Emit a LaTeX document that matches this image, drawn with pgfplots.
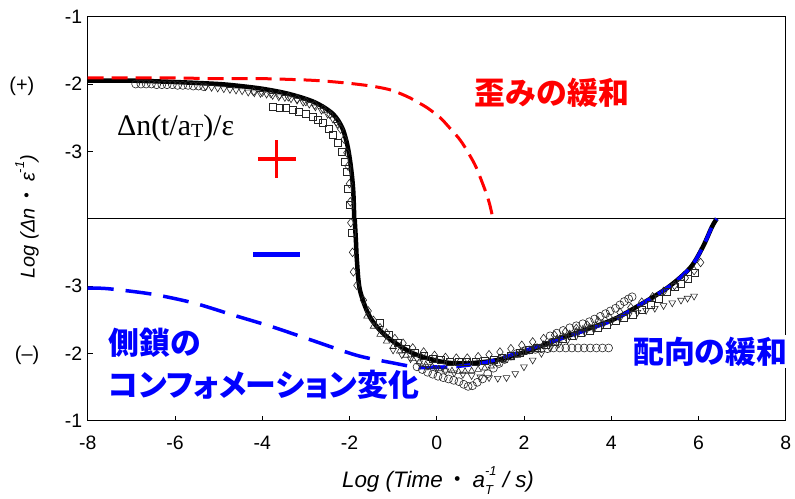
\documentclass[border=0pt]{standalone}
\usepackage{fontspec}
\setmainfont{Liberation Sans}
\newfontfamily\serif{Liberation Serif}
\newfontfamily\jp{Noto Sans CJK JP}
\newfontfamily\jpp[RawFeature=+palt]{Noto Sans CJK JP}
\usepackage{pgfplots}
\pgfplotsset{compat=1.18}
\begin{document}
\begin{tikzpicture}
\path[use as bounding box] (-87.7bp,-78.3bp) rectangle (707.3bp,420.7bp);
\begin{axis}[
  at={(0,0)}, anchor=south west,
  scale only axis, width=698bp, height=404bp,
  xmin=-8, xmax=8, ymin=-3, ymax=3,
  clip=false,
  axis line style={line width=0.9bp},
  xtick={-8,-6,-4,-2,0,2,4,6,8},
  xticklabels={-8,-6,-4,-2,0,2,4,6,8},
  ytick={-3,-2,-1,1,2,3},
  yticklabels={-1,-2,-3,-3,-2,-1},
  tick align=inside, xtick pos=lower, ytick pos=left,
  major tick length=5bp,
  tick style={line width=0.8bp, black},
  /pgf/number format/assume math mode=true,
  tick label style={font=\fontsize{19.5}{19.5}\selectfont},
  xticklabel style={yshift=-12bp},
  yticklabel style={xshift=-2bp},
]
% horizontal zero line
\draw[line width=1bp] (axis cs:-8,0) -- (axis cs:8,0);

% ---- markers ----
\addplot[only marks, mark=o, mark size=4bp, black!85, mark options={line width=0.6bp}] coordinates {
(-6.9,2.00)(-6.78,2.00)(-6.66,2.00)(-6.54,2.00)(-6.42,1.99)(-6.30,1.99)(-6.18,1.99)(-6.06,1.99)(-5.94,1.98)(-5.82,1.98)(-5.70,1.98)(-5.58,1.97)(-5.46,1.97)(-5.34,1.96)
(-0.45,-2.20)(-0.33,-2.24)(-0.21,-2.28)(-0.09,-2.31)(0.03,-2.34)(0.15,-2.36)(0.27,-2.38)(0.39,-2.40)(0.51,-2.42)(0.62,-2.46)(0.72,-2.49)(0.82,-2.48)(0.93,-2.43)(1.05,-2.38)(1.17,-2.30)(1.30,-2.22)(1.43,-2.15)(1.56,-2.09)(1.70,-2.04)(1.84,-2.00)(1.98,-1.97)(2.12,-1.95)(2.26,-1.94)(2.40,-1.93)(2.54,-1.93)(2.68,-1.92)(2.82,-1.92)(2.96,-1.92)(3.10,-1.92)(3.24,-1.92)(3.38,-1.92)(3.52,-1.92)(3.66,-1.92)(3.80,-1.92)(3.94,-1.92)
(2.6,-1.74)(2.75,-1.70)(2.9,-1.66)(3.05,-1.62)(3.2,-1.59)(3.35,-1.56)(3.5,-1.53)(3.62,-1.49)(3.75,-1.45)(3.87,-1.41)(3.98,-1.37)(4.1,-1.33)(4.2,-1.28)(4.3,-1.23)(4.4,-1.19)(4.48,-1.16)
};
\addplot[only marks, mark=triangle, mark size=3.9bp, black!85, mark options={line width=0.6bp, rotate=180}] coordinates {
(-5.3,1.96)(-5.16,1.95)(-5.02,1.94)(-4.88,1.93)(-4.74,1.92)(-4.6,1.91)(-4.46,1.90)(-4.32,1.88)(-4.18,1.87)(-4.04,1.86)(-3.9,1.85)(-3.76,1.83)(-3.62,1.81)(-3.48,1.80)(-3.34,1.78)(-3.2,1.76)(-3.06,1.73)(-2.92,1.70)(-2.78,1.66)(-2.64,1.61)(-2.5,1.55)(-2.38,1.48)(-2.28,1.40)
(-1.0,-1.95)(-0.8,-2.02)(-0.6,-2.08)(-0.4,-2.14)(-0.2,-2.19)(0.0,-2.23)(0.2,-2.26)(0.4,-2.29)(0.6,-2.31)(0.8,-2.33)(1.0,-2.35)(1.2,-2.36)(1.4,-2.37)(1.6,-2.36)(1.8,-2.30)(2.0,-2.20)(2.2,-2.10)(2.4,-2.00)(2.6,-1.92)(2.8,-1.86)(3.0,-1.80)(3.2,-1.74)(3.4,-1.69)(3.6,-1.64)(3.8,-1.58)(4.0,-1.53)(4.2,-1.48)(4.4,-1.43)(4.6,-1.39)(4.8,-1.36)(5.0,-1.33)(5.2,-1.29)(5.4,-1.25)(5.6,-1.21)(5.75,-1.18)(5.9,-1.15)
};
\addplot[only marks, mark=triangle, mark size=3.7bp, black!85, mark options={line width=0.6bp}] coordinates {
(-1.6,-1.45)(-1.45,-1.6)(-1.3,-1.72)(-1.15,-1.82)(-1.0,-1.9)(-0.85,-1.97)(-0.7,-2.03)(-0.55,-2.08)(-0.4,-2.13)(-0.25,-2.17)(-0.1,-2.2)(0.05,-2.23)(0.2,-2.25)(0.35,-2.26)(0.5,-2.27)(0.65,-2.27)(0.8,-2.26)(0.95,-2.24)(1.1,-2.22)(1.25,-2.19)(1.4,-2.15)(1.55,-2.11)(1.7,-2.07)(1.85,-2.03)(2.0,-1.99)(2.15,-1.95)(2.3,-1.91)(2.45,-1.87)(2.6,-1.83)(2.75,-1.79)(2.9,-1.75)(3.05,-1.71)(3.2,-1.67)(3.35,-1.64)(3.5,-1.61)(3.65,-1.58)(3.8,-1.55)
};
\addplot[only marks, mark=diamond, mark size=4.3bp, black!85, mark options={line width=0.6bp}] coordinates {
(-4.2,1.89)(-4.0,1.88)(-3.8,1.86)(-3.6,1.84)(-3.4,1.81)(-3.2,1.78)(-3.0,1.74)(-2.8,1.69)(-2.6,1.63)(-2.45,1.55)(-2.3,1.44)(-2.2,1.33)(-2.12,1.18)(-2.06,0.98)(-2.03,0.78)(-2.0,0.52)(-1.98,0.25)(-1.97,-0.06)
(-1.93,-0.5)(-1.91,-0.79)(-1.83,-0.99)(-1.68,-1.21)(-1.57,-1.37)(-1.45,-1.51)(-1.3,-1.62)(-1.15,-1.70)(-0.96,-1.78)(-0.77,-1.85)(-0.55,-1.92)(-0.3,-1.98)(-0.05,-2.03)(0.2,-2.06)(0.45,-2.07)(0.7,-2.07)(0.95,-2.05)(1.2,-2.02)(1.45,-1.98)(1.7,-1.93)(1.95,-1.88)(2.2,-1.83)(2.45,-1.78)(2.7,-1.73)(2.95,-1.68)(3.2,-1.63)(3.45,-1.58)(3.7,-1.52)(3.95,-1.46)(4.2,-1.39)(4.45,-1.32)(4.7,-1.24)(4.95,-1.16)(5.2,-1.08)(5.45,-0.99)(5.7,-0.88)(5.9,-0.77)(6.05,-0.65)
};
\addplot[only marks, mark=square, mark size=3.5bp, black!85, mark options={line width=0.6bp}] coordinates {
(-3.75,1.66)(-3.6,1.65)(-3.45,1.64)(-3.3,1.62)(-3.15,1.59)(-3.0,1.56)(-2.85,1.51)(-2.72,1.47)(-2.6,1.42)(-2.48,1.34)(-2.38,1.24)(-2.27,1.12)(-2.17,1.0)(-2.1,0.85)(-2.06,0.69)(-2.03,0.45)(-2.0,0.2)
(-1.95,-0.21)(-1.3,-1.55)(-1.1,-1.72)(-0.9,-1.84)(-0.7,-1.93)(-0.5,-1.99)(-0.3,-2.04)(-0.1,-2.08)(0.1,-2.10)(0.3,-2.12)(0.5,-2.13)(0.7,-2.13)(0.9,-2.12)(1.1,-2.11)(1.3,-2.09)(1.5,-2.06)(1.7,-2.03)(1.9,-1.99)(2.1,-1.95)(2.3,-1.91)(2.5,-1.87)(2.7,-1.83)(2.9,-1.79)(3.1,-1.74)(3.3,-1.70)(3.5,-1.66)(3.7,-1.62)(3.9,-1.57)(4.1,-1.52)(4.3,-1.47)(4.5,-1.42)(4.7,-1.36)(4.9,-1.28)(5.1,-1.19)(5.28,-1.08)(5.45,-1.01)(5.6,-0.96)(5.76,-0.89)(5.92,-0.80)
};

% ---- master curve (black) ----
\addplot[black, line width=4.5bp, smooth, tension=0.5] coordinates {
(-8,2.05)(-7,2.05)(-6,2.03)(-5,2.00)(-4.5,1.97)(-4,1.93)(-3.5,1.87)(-3.1,1.80)(-2.8,1.73)(-2.55,1.64)(-2.37,1.55)(-2.25,1.45)(-2.14,1.31)(-2.05,1.10)(-1.99,0.88)(-1.94,0.62)(-1.91,0.38)(-1.89,0)
};
\addplot[black, line width=4.5bp, smooth, tension=0.5] coordinates {
(-1.88,0)(-1.85,-0.35)(-1.83,-0.61)(-1.76,-1.06)(-1.53,-1.46)(-1.15,-1.75)(-0.54,-2.00)(0.08,-2.12)(0.61,-2.15)(1.38,-2.10)(2.15,-1.95)(2.83,-1.78)(3.45,-1.64)(4.04,-1.50)(4.5,-1.34)(5.28,-1.03)(5.81,-0.73)(6.10,-0.42)(6.31,-0.12)(6.42,0)
};

% ---- side chain conformation (blue dashed) ----
\addplot[blue, line width=3.5bp, dash pattern=on 26bp off 12bp, smooth] coordinates {
(-8,-1.03)(-7.53,-1.04)(-6.53,-1.12)(-5.58,-1.25)(-4.67,-1.43)(-3.75,-1.61)(-2.84,-1.81)(-1.83,-2.03)(-1.02,-2.14)(-0.38,-2.21)(0.38,-2.20)
};
% ---- orientation relaxation (blue dashed) ----
\addplot[blue, line width=3.5bp, dash pattern=on 15bp off 9bp, smooth] coordinates {
(-0.1,-2.20)(0.38,-2.20)(1.15,-2.13)(1.91,-1.98)(2.67,-1.82)(3.45,-1.65)(4.04,-1.51)(4.50,-1.34)(5.28,-1.03)(5.81,-0.73)(6.10,-0.42)(6.31,-0.12)(6.42,0)
};
% ---- strain relaxation (red dashed) ----
\addplot[red, line width=3bp, dash pattern=on 16bp off 8bp, smooth, tension=0.5] coordinates {
(-8,2.09)(-7,2.09)(-6,2.09)(-5,2.08)(-4,2.08)(-3,2.06)(-2.5,2.04)(-2,2.01)(-1.5,1.97)(-1.1,1.92)(-0.84,1.86)(-0.6,1.79)(-0.38,1.71)(-0.2,1.64)(0.08,1.50)(0.24,1.39)(0.5,1.20)(0.63,1.08)(0.75,0.95)(0.9,0.77)(1.06,0.51)(1.15,0.35)(1.22,0.20)(1.29,0)
};

% ---- annotations ----
\draw[red, line width=3.3bp] (axis cs:-4.10,0.887) -- (axis cs:-3.23,0.887);
\draw[red, line width=3.3bp] (axis cs:-3.67,0.605) -- (axis cs:-3.67,1.17);
\draw[blue, line width=5bp] (axis cs:-4.21,-0.53) -- (axis cs:-3.13,-0.53);

\node[anchor=base west, inner sep=0, font=\serif\fontsize{30}{30}\selectfont] at (axis cs:-7.33,1.24) {Δn(t/a{\fontsize{20}{20}\selectfont\raisebox{-0.3ex}{T}})/ε};
\node[inner sep=0, text=red, font=\jp\bfseries\fontsize{31}{31}\selectfont] at (axis cs:2.64,1.875) {歪みの緩和};
\node[anchor=west, inner sep=2bp, fill=white, text=blue, font=\jp\bfseries\fontsize{31}{31}\selectfont] at (axis cs:4.454,-1.97) {配向の緩和};
\node[anchor=west, inner sep=0, text=blue, font=\jpp\bfseries\fontsize{31}{31}\selectfont] at (axis cs:-7.53,-1.84) {側鎖の};
\node[anchor=west, inner sep=0, text=blue, font=\jpp\bfseries\fontsize{31}{31}\selectfont] at (axis cs:-7.53,-2.47) {コンフォメーション変化};

\node[font=\fontsize{20}{20}\selectfont] at (axis cs:-9.51,1.97) {(+)};
\node[font=\fontsize{20}{20}\selectfont] at (axis cs:-9.39,-2.03) {(–)};

\node[rotate=90, font=\itshape\fontsize{20}{20}\selectfont] at (axis cs:-9.39,0.03) {Log (Δn{\jp\upshape\,・\,}ε\raisebox{1.0ex}{\fontsize{13}{13}\selectfont -1})};
\node[font=\itshape\fontsize{22.5}{22.5}\selectfont] at (axis cs:0.03,-3.89) {Log (Time{\jp\upshape\,・\,}a\rlap{\raisebox{-0.55ex}{\fontsize{13}{13}\selectfont T}}\raisebox{1.0ex}{\fontsize{13}{13}\selectfont -1} / s)};
\end{axis}
\end{tikzpicture}
\end{document}
